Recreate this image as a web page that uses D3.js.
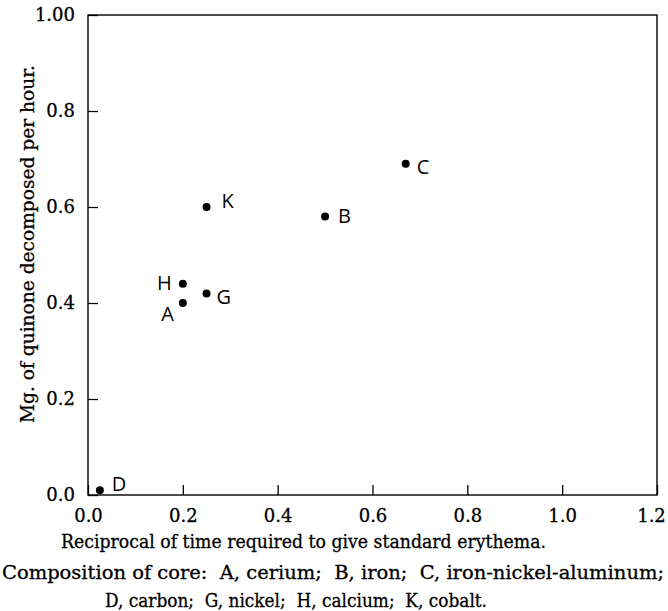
<!DOCTYPE html>
<html>
<head>
<meta charset="utf-8">
<script src="https://cdn.jsdelivr.net/npm/d3@7"></script>
<style>
  body { margin: 0; background: #fff; }
  svg { display: block; }
  .serif { font-family: 'DejaVu Serif', 'Liberation Serif', serif; fill: #000; stroke: #000; stroke-width: 0.3px; }
</style>
</head>
<body>
<svg id="chart" width="668" height="611"></svg>
<script>
// 数据: 各铁芯的点
var coreLabels = ["A", "B", "C", "D", "G", "H", "K"];
var recipTime = [0.20, 0.50, 0.67, 0.025, 0.25, 0.20, 0.25];
var quinoneRate = [0.40, 0.58, 0.69, 0.01, 0.42, 0.44, 0.60];

var xTicks = [0, 0.2, 0.4, 0.6, 0.8, 1.0, 1.2];
var xTickLabels = ["0.0", "0.2", "0.4", "0.6", "0.8", "1.0", "1.2"];
var yTicks = [0, 0.2, 0.4, 0.6, 0.8, 1.0];
var yTickLabels = ["0.0", "0.2", "0.4", "0.6", "0.8", "1.00"];

var xTitle = "Reciprocal of time required to give standard erythema.";
var yTitle = "Mg. of quinone decomposed per hour.";
var captionLines = [
    "Composition of core:  A, cerium;  B, iron;  C, iron-nickel-aluminum;",
    "D, carbon;  G, nickel;  H, calcium;  K, cobalt."
];

// 标签偏移 (dx, dy, anchor)
var labelPos = {
    A: [-9, 18, "end"],
    B: [13, 6, "start"],
    C: [11, 10, "start"],
    D: [12, 1, "start"],
    G: [10, 11, "start"],
    H: [-11, 6, "end"],
    K: [15, 1, "start"]
};

var margin = {left: 88, right: 11, top: 15, bottom: 116};
var width = 668, height = 611;

var svg = d3.select("#chart");

var xScale = d3.scaleLinear()
    .domain([0, 1.2])
    .range([margin.left, width - margin.right]);
var yScale = d3.scaleLinear()
    .domain([0, 1.0])
    .range([height - margin.bottom, margin.top]);

var xAxis = d3.axisBottom(xScale)
    .tickValues(xTicks)
    .tickFormat((d, i) => xTickLabels[i])
    .tickSizeInner(-10).tickSizeOuter(0).tickPadding(14);
var yAxis = d3.axisLeft(yScale)
    .tickValues(yTicks)
    .tickFormat((d, i) => yTickLabels[i])
    .tickSizeInner(-10).tickSizeOuter(0).tickPadding(13);

var gx = svg.append("g")
    .attr("transform", "translate(0," + yScale(0) + ")")
    .call(xAxis);
var gy = svg.append("g")
    .attr("transform", "translate(" + xScale(0) + ",0)")
    .call(yAxis);

[gx, gy].forEach(g => {
    g.select(".domain").remove();
    g.selectAll(".tick line").attr("stroke", "#000").attr("stroke-width", 1.3);
    g.selectAll(".tick text")
        .attr("class", "serif")
        .attr("font-family", null)
        .style("font-size", "18px");
});
// 最右的刻度文字稍微左移, 免得被裁掉
gx.selectAll(".tick text").filter((d, i) => i === xTicks.length - 1).attr("dx", -6);

// 边框
svg.append("rect")
    .attr("x", xScale(0))
    .attr("y", yScale(1))
    .attr("width", xScale(1.2) - xScale(0))
    .attr("height", yScale(0) - yScale(1))
    .attr("fill", "none")
    .attr("stroke", "#000")
    .attr("stroke-width", 1.4);

// 点
var pts = coreLabels.map((c, i) => ({label: c, x: recipTime[i], y: quinoneRate[i]}));

svg.append("g")
    .selectAll("circle")
    .data(pts)
    .join("circle")
    .attr("cx", d => xScale(d.x))
    .attr("cy", d => yScale(d.y))
    .attr("r", 4)
    .attr("fill", "#000");

svg.append("g")
    .selectAll("text")
    .data(pts)
    .join("text")
    .attr("x", d => xScale(d.x) + labelPos[d.label][0])
    .attr("y", d => yScale(d.y) + labelPos[d.label][1])
    .attr("text-anchor", d => labelPos[d.label][2])
    .style("font-family", "'Open Sans', 'DejaVu Sans', sans-serif")
    .style("font-weight", 400)
    .style("font-size", "20px")
    .attr("fill", "#000")
    .text(d => d.label);

// 轴标题
svg.append("text")
    .attr("class", "serif")
    .attr("x", 61)
    .attr("y", 548)
    .attr("textLength", 485)
    .attr("lengthAdjust", "spacingAndGlyphs")
    .style("font-size", "18px")
    .text(xTitle);

svg.append("text")
    .attr("class", "serif")
    .attr("transform", "translate(34,423) rotate(-90)")
    .attr("textLength", 358)
    .attr("lengthAdjust", "spacingAndGlyphs")
    .style("font-size", "18px")
    .text(yTitle);

// 说明文字
var capX = [2, 105], capW = [662, 382], capY = [579, 607];
svg.append("g")
    .selectAll("text")
    .data(captionLines)
    .join("text")
    .attr("class", "serif")
    .attr("x", (d, i) => capX[i])
    .attr("y", (d, i) => capY[i])
    .attr("textLength", (d, i) => capW[i])
    .attr("lengthAdjust", "spacingAndGlyphs")
    .attr("xml:space", "preserve")
    .style("font-size", "18px")
    .style("white-space", "pre")
    .text(d => d);
</script>
</body>
</html>
